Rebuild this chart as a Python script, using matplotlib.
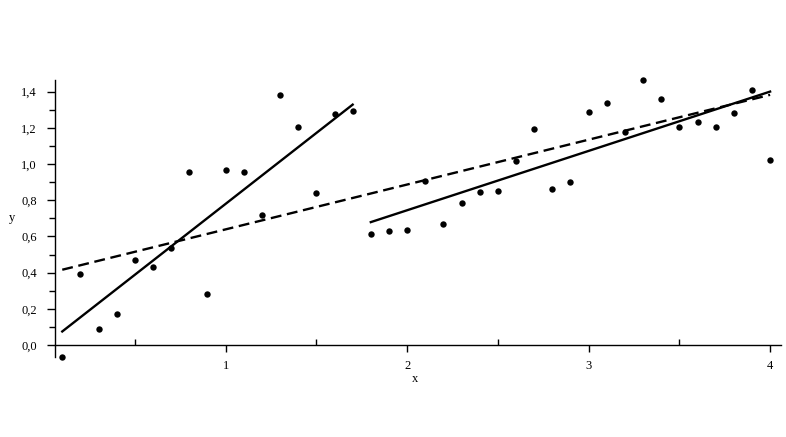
"""
Scatter data with two piecewise least-squares lines and one overall fit,
drawn in the plain Maple style (comma decimals, serif tick labels).
"""

import matplotlib
matplotlib.use("Agg")
import matplotlib.pyplot as plt
from matplotlib.ticker import MultipleLocator, FuncFormatter

# measured points
x_pts = [0.1, 0.2, 0.3, 0.4, 0.5, 0.6, 0.7, 0.8, 0.9, 1.0,
         1.1, 1.2, 1.3, 1.4, 1.5, 1.6, 1.7, 1.8, 1.9, 2.0,
         2.1, 2.2, 2.3, 2.4, 2.5, 2.6, 2.7, 2.8, 2.9, 3.0,
         3.1, 3.2, 3.3, 3.4, 3.5, 3.6, 3.7, 3.8, 3.9, 4.0]
y_pts = [-0.066, 0.392, 0.088, 0.169, 0.469, 0.430, 0.535, 0.955, 0.281, 0.966,
         0.955, 0.716, 1.380, 1.203, 0.839, 1.275, 1.291, 0.611, 0.628, 0.635,
         0.907, 0.668, 0.784, 0.844, 0.852, 1.017, 1.192, 0.861, 0.900, 1.288,
         1.335, 1.179, 1.462, 1.357, 1.206, 1.234, 1.203, 1.281, 1.408, 1.021]

# fitted lines (end points)
fit_left_x = [0.1, 1.7]
fit_left_y = [0.075, 1.328]
fit_right_x = [1.8, 4.0]
fit_right_y = [0.679, 1.400]
fit_all_x = [0.1, 4.0]
fit_all_y = [0.416, 1.382]


def comma(v, pos):
    return f"{v:.1f}".replace(".", ",")


def main():
    plt.rcParams["font.family"] = ["Liberation Serif", "DejaVu Serif"]
    fig = plt.figure(figsize=(7.86, 4.37), dpi=100)
    ax = fig.add_axes([55 / 786, 80 / 437, 726 / 786, 277 / 437])

    ax.plot(x_pts, y_pts, "o", color="black", ms=4.6, mew=0, clip_on=False)
    ax.plot(fit_left_x, fit_left_y, color="black", lw=1.7)
    ax.plot(fit_right_x, fit_right_y, color="black", lw=1.7)
    ax.plot(fit_all_x, fit_all_y, color="black", lw=1.7,
            dashes=(4.6, 2.4))

    ax.set_xlim(0.06, 4.06)
    ax.set_ylim(-0.066, 1.464)

    for s in ("top", "right"):
        ax.spines[s].set_visible(False)
    ax.spines["bottom"].set_position(("data", 0))
    ax.spines["left"].set_linewidth(1.0)
    ax.spines["bottom"].set_linewidth(1.0)

    ax.xaxis.set_major_locator(MultipleLocator(1))
    ax.xaxis.set_minor_locator(MultipleLocator(0.5))
    ax.yaxis.set_major_locator(MultipleLocator(0.2))
    ax.yaxis.set_minor_locator(MultipleLocator(0.1))
    ax.yaxis.set_major_formatter(FuncFormatter(comma))
    ax.xaxis.set_major_formatter(FuncFormatter(lambda v, p: f"{v:.0f}"))

    # x: major ticks hang below the axis, minor ones stand above it
    ax.tick_params(axis="x", which="major", direction="out", length=5,
                   width=1, labelsize=9, pad=6)
    ax.tick_params(axis="x", which="minor", direction="in", length=4,
                   width=1)
    ax.tick_params(axis="y", which="major", direction="out", length=6,
                   width=1, labelsize=9, pad=7)
    ax.tick_params(axis="y", which="minor", direction="out", length=4,
                   width=1)

    ax.set_xlabel("x", fontsize=9)
    ax.xaxis.set_label_coords(0.496, -0.058)
    ax.set_ylabel("y", fontsize=9, rotation=0, ha="center", va="center")
    ax.yaxis.set_label_coords(-0.059, 0.502)

    fig.savefig("out.png", dpi=100)


if __name__ == "__main__":
    main()
